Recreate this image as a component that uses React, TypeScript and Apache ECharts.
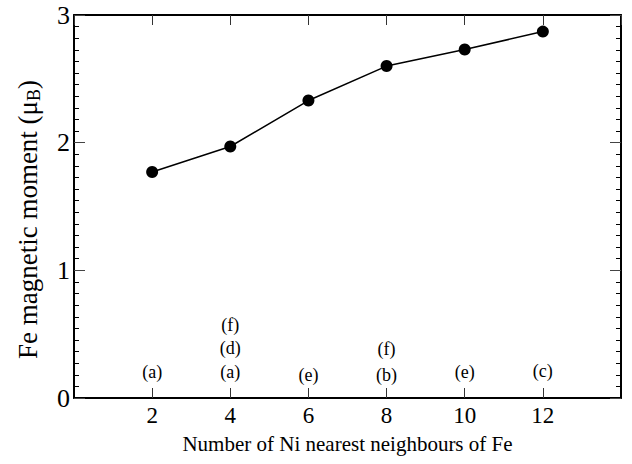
import React, { useEffect, useRef } from "react";
import * as echarts from "echarts";

const nNeighbours = [2, 4, 6, 8, 10, 12];
const moments = [1.77, 1.97, 2.33, 2.6, 2.73, 2.87];

const annotX = [2, 4, 4, 4, 6, 8, 8, 10, 12];
const annotY = [0.2, 0.2, 0.39, 0.57, 0.18, 0.18, 0.38, 0.2, 0.21];
const annotText = ["(a)", "(a)", "(d)", "(f)", "(e)", "(b)", "(f)", "(e)", "(c)"];

const xTitle = "Number of Ni nearest neighbours of Fe";
const yTitle = "{n|Fe magnetic moment (μ}{sub|B}{n|)}{pad|}";

const FONT = "'Liberation Serif', 'DejaVu Serif', serif";

export default function App() {
  const ref = useRef<HTMLDivElement>(null);
  useEffect(() => {
    document.body.style.margin = "0";
    const chart = echarts.init(ref.current!, null, { renderer: "svg" });
    const axisLine = { show: true, onZero: false, lineStyle: { color: "#000", width: 2 } };
    chart.setOption({
      animation: false,
      backgroundColor: "#fff",
      grid: { left: 74, right: 11, top: 15, bottom: 66, containLabel: false },
      xAxis: [
        {
          type: "value",
          min: 0,
          max: 14,
          interval: 2,
          position: "bottom",
          axisLine,
          axisTick: { show: true, inside: true, length: 10, lineStyle: { color: "#333", width: 1 } },
          axisLabel: {
            showMinLabel: false,
            showMaxLabel: false,
            color: "#000",
            fontFamily: FONT,
            fontSize: 23,
            margin: 6,
          },
          splitLine: { show: false },
          name: xTitle,
          nameLocation: "middle",
          nameGap: 35,
          nameTextStyle: { color: "#000", fontFamily: FONT, fontSize: 21 },
        },
        {
          type: "value",
          min: 0,
          max: 14,
          interval: 2,
          position: "top",
          axisLine,
          axisTick: { show: true, inside: true, length: 10, lineStyle: { color: "#333", width: 1 } },
          axisLabel: { show: false },
          splitLine: { show: false },
        },
      ],
      yAxis: [
        {
          type: "value",
          min: 0,
          max: 3,
          interval: 1,
          position: "left",
          axisLine,
          axisTick: { show: true, inside: true, length: 11, lineStyle: { color: "#444", width: 1 } },
          minorTick: { show: true, splitNumber: 11, length: 5, lineStyle: { color: "#000", width: 1 } },
          axisLabel: { color: "#000", fontFamily: FONT, fontSize: 26, margin: 4 },
          splitLine: { show: false },
          minorSplitLine: { show: false },
          name: yTitle,
          nameLocation: "middle",
          nameGap: 31,
          nameTextStyle: {
            color: "#000",
            fontFamily: FONT,
            fontSize: 27,
            rich: {
              n: { fontFamily: FONT, fontSize: 27, color: "#000", lineHeight: 30 },
              sub: { fontFamily: FONT, fontSize: 18, color: "#000", verticalAlign: "bottom", lineHeight: 30 },
              pad: { width: 26, lineHeight: 30 },
            },
          },
        },
        {
          type: "value",
          min: 0,
          max: 3,
          interval: 1,
          position: "right",
          axisLine,
          axisTick: { show: true, inside: true, length: 11, lineStyle: { color: "#444", width: 1 } },
          minorTick: { show: true, splitNumber: 11, length: 5, lineStyle: { color: "#000", width: 1 } },
          axisLabel: { show: false },
          splitLine: { show: false },
          minorSplitLine: { show: false },
        },
      ],
      series: [
        {
          type: "line",
          xAxisIndex: 0,
          yAxisIndex: 0,
          data: nNeighbours.map((x, i) => [x, moments[i]]),
          symbol: "circle",
          symbolSize: 12,
          itemStyle: { color: "#000" },
          lineStyle: { color: "#000", width: 1.5 },
          z: 3,
        },
        {
          type: "scatter",
          xAxisIndex: 0,
          yAxisIndex: 0,
          symbolSize: 0,
          itemStyle: { color: "#000", opacity: 1 },
          data: annotX.map((x, i) => ({ value: [x, annotY[i]], name: annotText[i] })),
          label: {
            show: true,
            position: "inside",
            formatter: (p: any) => p.name,
            color: "#000",
            textBorderWidth: 0,
            textBorderColor: "transparent",
            fontFamily: FONT,
            fontSize: 18,
          },
          silent: true,
        },
      ],
    });
    return () => chart.dispose();
  }, []);
  return <div ref={ref} style={{ width: 632, height: 464 }} />;
}
